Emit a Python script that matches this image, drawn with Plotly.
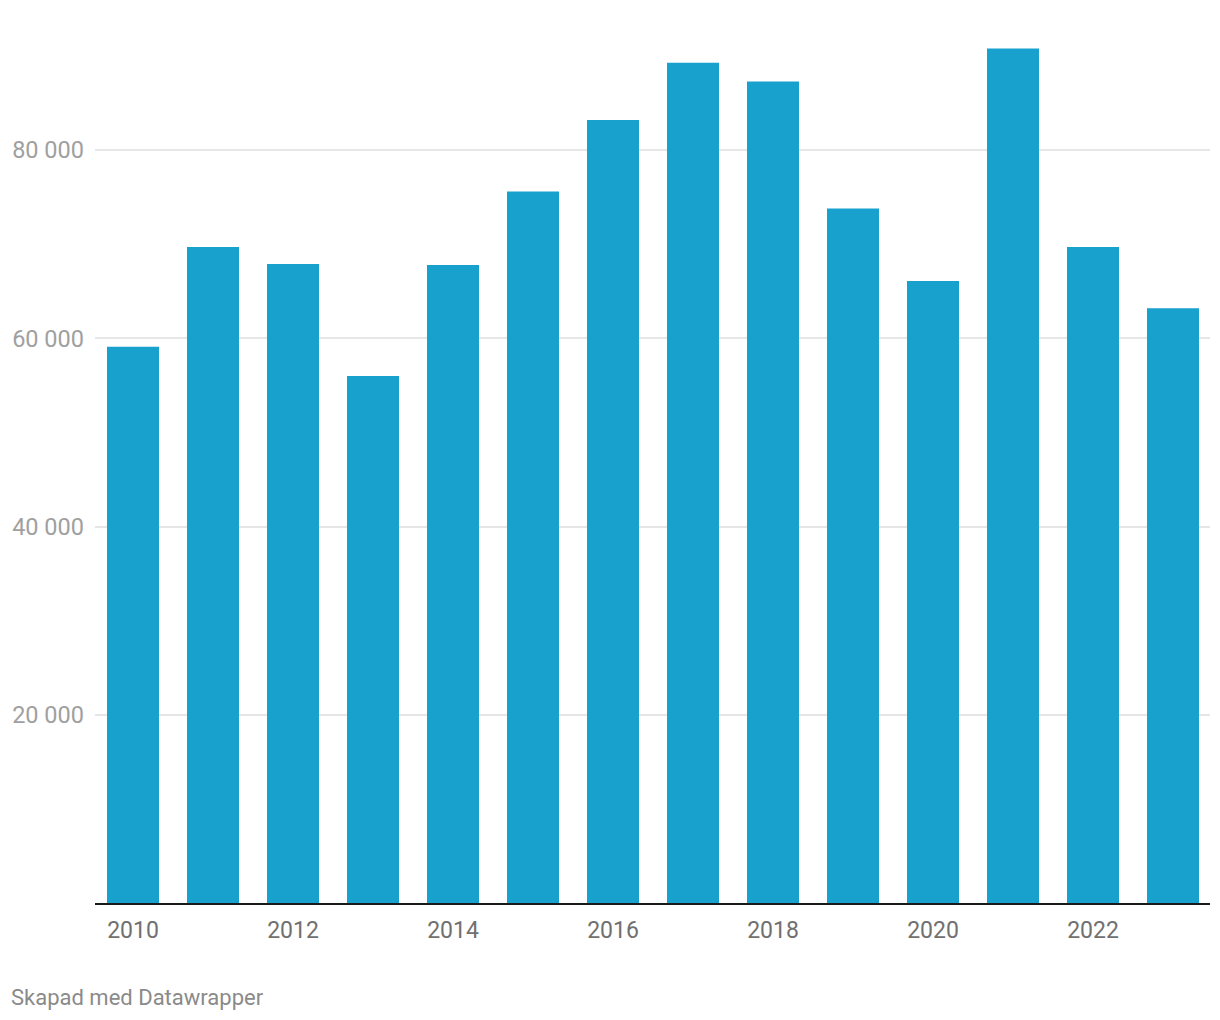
import plotly.graph_objects as go

years = [2010, 2011, 2012, 2013, 2014, 2015, 2016, 2017, 2018, 2019, 2020, 2021, 2022, 2023]
values = [59100, 69700, 67900, 56000, 67800, 75600, 83200, 89300, 87300, 73800, 66100, 90800, 69700, 63200]
y_ticks = [20000, 40000, 60000, 80000]
y_tick_labels = ["20 000", "40 000", "60 000", "80 000"]
x_ticks = [2010, 2012, 2014, 2016, 2018, 2020, 2022]
x_tick_labels = ["2010", "2012", "2014", "2016", "2018", "2020", "2022"]

fig = go.Figure()
fig.add_trace(go.Bar(x=years, y=values, marker=dict(color="#18a1cd", line=dict(width=0)),
                     width=0.65, hoverinfo="x+y"))

fig.update_layout(
    width=1220, height=1020,
    margin=dict(l=87, r=18, t=1, b=125),
    paper_bgcolor="white", plot_bgcolor="white",
    font=dict(family="Roboto", size=23, color="#666666"),
    showlegend=False,
    xaxis=dict(range=[2010 - 0.475, 2010 + 13.4625], tickvals=x_ticks, ticktext=x_tick_labels,
               showgrid=False, zeroline=False, showline=True, linecolor="#1a1a1a", linewidth=2,
               ticks="", tickfont=dict(color="#707070", size=23), ticklabelstandoff=5),
    yaxis=dict(range=[0, 95000], tickvals=y_ticks, ticktext=y_tick_labels,
               showgrid=True, gridcolor="#e6e6e6", gridwidth=1.5, zeroline=False,
               ticks="", tickfont=dict(color="#a0a0a0", size=23.5), ticklabelstandoff=10),
    annotations=[dict(text="Skapad med Datawrapper", xref="paper", yref="paper", x=0, y=0,
                      xanchor="left", yanchor="middle", xshift=-86, yshift=-94, showarrow=False,
                      font=dict(family="Roboto", size=22, color="#8a8a8a"))],
)

fig.write_html("out.html")
